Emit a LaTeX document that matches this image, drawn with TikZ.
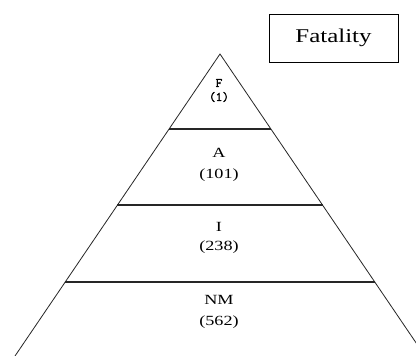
\documentclass[tikz,border=0pt]{standalone}
\usepackage{fontspec}
\setmainfont{Liberation Serif}
\newfontfamily\monob[FakeBold=2]{Latin Modern Mono}
\begin{document}
\begin{tikzpicture}[x=1pt,y=1pt,
  side/.style={line width=0.8pt,draw=black!85},
  tier/.style={line width=1.3pt,draw=black!85},
  lab/.style={inner sep=0pt,font=\fontsize{14}{14}\selectfont},
  mlab/.style={inner sep=0pt,font=\monob\fontsize{13}{13}\selectfont},
  box/.style={draw=black,line width=0.9pt,minimum width=129pt,minimum height=48pt,inner sep=0pt}]
\useasboundingbox (0,0) rectangle (416,356);
\fill[white] (0,0) rectangle (416,356);
\begin{scope}
\clip (0,0) rectangle (416,356);
\coordinate (apex) at (220,302);
\coordinate (bl) at (15,0);
\coordinate (br) at (425,0);
\draw[side] (bl) -- (apex) -- (br);
\coordinate (l1) at (169,227); \coordinate (r1) at (271,227);
\coordinate (l2) at (117.3,151); \coordinate (r2) at (322.7,151);
\coordinate (l3) at (65,74); \coordinate (r3) at (375,74);
\draw[tier] (l1) -- (r1);
\draw[tier] (l2) -- (r2);
\draw[tier] (l3) -- (r3);
\end{scope}
\node[mlab] (f) at (219,273) {F};
\node[mlab] (f1) at (219,259) {(1)};
\node[lab] (a) at (219,203) {\scalebox{1.3}[1]{A}};
\node[lab] (a1) at (219,181) {\scalebox{1.3}[1]{(101)}};
\node[lab] (i) at (219,129) {\scalebox{1.3}[1]{I}};
\node[lab] (i1) at (219,109) {\scalebox{1.3}[1]{(238)}};
\node[lab] (nm) at (219,56) {\scalebox{1.3}[1]{NM}};
\node[lab] (nm1) at (219,34) {\scalebox{1.3}[1]{(562)}};
\node[box] (fat) at (333.5,318) {\fontsize{19.5}{19.5}\selectfont\scalebox{1.28}[1]{Fatality}};
\end{tikzpicture}
\end{document}
